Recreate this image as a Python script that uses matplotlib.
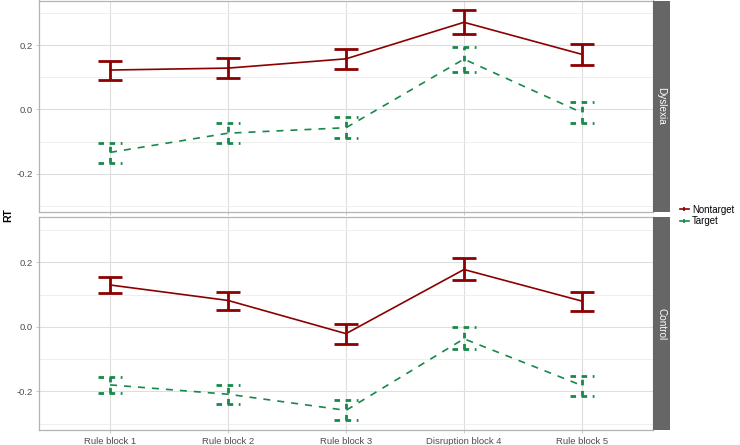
import matplotlib
matplotlib.use("Agg")
import matplotlib.pyplot as plt
from matplotlib.lines import Line2D
import numpy as np

plt.rcParams['font.family'] = ['Liberation Sans', 'DejaVu Sans']

blocks = ["Rule block 1", "Rule block 2", "Rule block 3", "Disruption block 4", "Rule block 5"]
groups = ["Dyslexia", "Control"]
conditions = ["Nontarget", "Target"]

# mean, lower, upper per group / condition
dys_nontarget_mean = [0.123, 0.129, 0.158, 0.272, 0.172]
dys_nontarget_low = [0.093, 0.097, 0.127, 0.236, 0.140]
dys_nontarget_high = [0.151, 0.160, 0.189, 0.310, 0.203]

dys_target_mean = [-0.134, -0.074, -0.057, 0.157, -0.010]
dys_target_low = [-0.168, -0.105, -0.088, 0.117, -0.043]
dys_target_high = [-0.106, -0.043, -0.025, 0.196, 0.022]

ctl_nontarget_mean = [0.130, 0.082, -0.021, 0.178, 0.080]
ctl_nontarget_low = [0.106, 0.053, -0.053, 0.144, 0.048]
ctl_nontarget_high = [0.156, 0.108, 0.010, 0.214, 0.108]

ctl_target_mean = [-0.180, -0.209, -0.259, -0.037, -0.182]
ctl_target_low = [-0.204, -0.238, -0.290, -0.070, -0.214]
ctl_target_high = [-0.154, -0.180, -0.227, 0.000, -0.151]

y_ticks = [-0.2, 0.0, 0.2]
y_tick_labels = ["-0.2", "0.0", "0.2"]

data = {
    "Dyslexia": {
        "Nontarget": (dys_nontarget_mean, dys_nontarget_low, dys_nontarget_high),
        "Target": (dys_target_mean, dys_target_low, dys_target_high),
    },
    "Control": {
        "Nontarget": (ctl_nontarget_mean, ctl_nontarget_low, ctl_nontarget_high),
        "Target": (ctl_target_mean, ctl_target_low, ctl_target_high),
    },
}

colors = {"Nontarget": "#8B0000", "Target": "#18894A"}
line_styles = {"Nontarget": "-", "Target": (0, (4.2, 4.2))}
err_styles = {"Nontarget": "-", "Target": (0, (2.0, 2.0))}

W, H = 740, 445
fig = plt.figure(figsize=(W / 100, H / 100), dpi=100)

left_px, right_px = 39.3, 652.7
panel_px = [(0.5, 212.0), (217.3, 430.0)]
strip_w = 17.3

# y limits from data with ggplot-style 5% expansion
all_vals = np.concatenate([np.array(v) for g in data.values() for c in g.values() for v in c])
rng = all_vals.max() - all_vals.min()
ylim = (all_vals.min() - 0.05 * rng, all_vals.max() + 0.05 * rng)

x = np.arange(1, len(blocks) + 1)
cap = 0.1

for gi, group in enumerate(groups):
    top, bot = panel_px[gi]
    ax = fig.add_axes([left_px / W, 1 - bot / H, (right_px - left_px) / W, (bot - top) / H])
    ax.set_xlim(0.4, len(blocks) + 0.6)
    ax.set_ylim(*ylim)
    ax.set_yticks(y_ticks)
    ax.set_yticklabels(y_tick_labels)
    ax.set_yticks([-0.3, -0.1, 0.1, 0.3], minor=True)
    ax.set_xticks(x)
    if gi == len(groups) - 1:
        ax.set_xticklabels(blocks)
    else:
        ax.set_xticklabels([])
    ax.grid(True, which="major", color="#DEDEDE", linewidth=0.8)
    ax.grid(True, which="minor", axis="y", color="#EDEDED", linewidth=0.6)
    ax.set_axisbelow(True)
    for s in ax.spines.values():
        s.set_color("#B3B3B3")
        s.set_linewidth(0.9)
    ax.tick_params(which="both", length=2.2, width=0.5, color="#B3B3B3",
                   labelsize=6.8, labelcolor="#4D4D4D", pad=2.5)
    ax.tick_params(which="minor", length=0)

    for cond in conditions:
        mean, low, high = data[group][cond]
        col = colors[cond]
        ax.plot(x, mean, color=col, linewidth=1.2, linestyle=line_styles[cond], zorder=3)
        ax.vlines(x, low, high, colors=col, linewidth=2.0, linestyles=[err_styles[cond]], zorder=3)
        ax.hlines(low, x - cap, x + cap, colors=col, linewidth=2.0, linestyles=[err_styles[cond]], zorder=3)
        ax.hlines(high, x - cap, x + cap, colors=col, linewidth=2.0, linestyles=[err_styles[cond]], zorder=3)

    sax = fig.add_axes([right_px / W, 1 - bot / H, strip_w / W, (bot - top) / H])
    sax.set_facecolor("#666666")
    sax.set_xticks([])
    sax.set_yticks([])
    for s in sax.spines.values():
        s.set_visible(False)
    sax.text(0.5, 0.5, group, rotation=-90, color="white", fontsize=7.2,
             ha="center", va="center", transform=sax.transAxes)

fig.text(8 / W, 1 - 215 / H, "RT", rotation=90, fontsize=7.5, fontweight="bold",
         ha="center", va="center")

handles = [Line2D([0], [0], color=colors[c], linewidth=1.2, linestyle="-",
                  marker="|", markersize=3, markeredgewidth=1.2) for c in conditions]
fig.legend(handles, conditions, loc="center left", bbox_to_anchor=(680 / W, 1 - 215.5 / H),
           frameon=False, fontsize=6.9, handlelength=0.9, handletextpad=0.35,
           labelspacing=0.15, borderpad=0.0, borderaxespad=0.0)

fig.savefig("out.png", dpi=100)
